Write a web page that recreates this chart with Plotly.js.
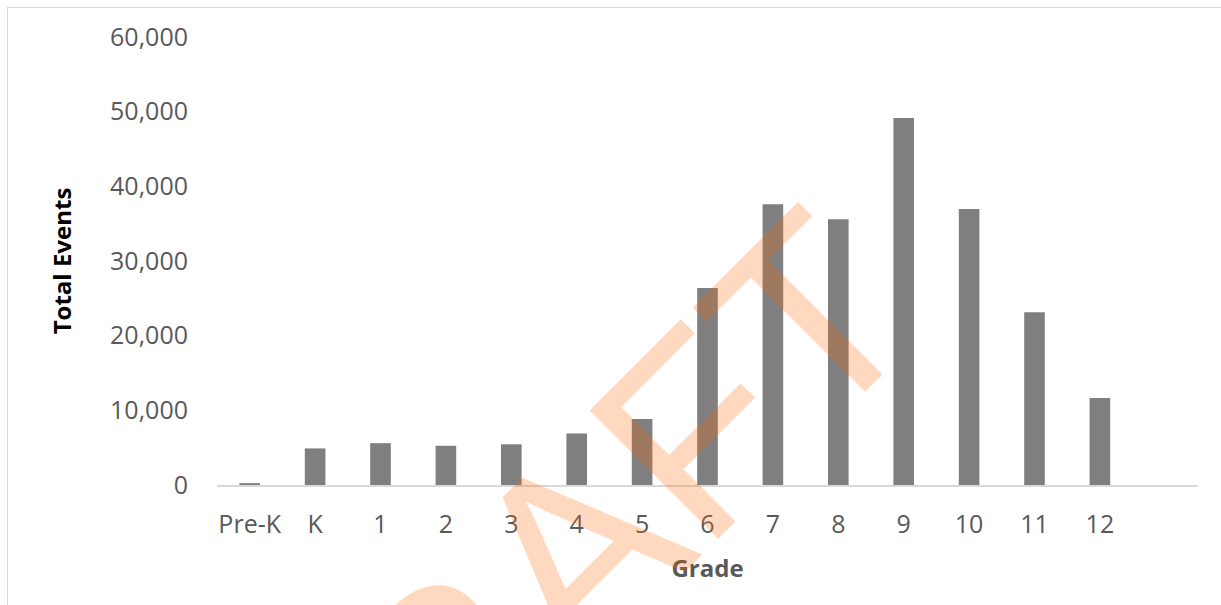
<!DOCTYPE html>
<html>
<head>
<meta charset="utf-8">
<script src="https://cdn.plot.ly/plotly-3.0.1.min.js"></script>
<style>
  html, body { margin: 0; padding: 0; background: #ffffff; overflow: hidden; }
  #frame { position: absolute; left: 7px; top: 7px; width: 1250px; height: 640px; border: 1px solid #d9d9d9; }
  #chart { position: absolute; left: 0; top: 0; width: 1221px; height: 605px; }
</style>
</head>
<body>
<div id="frame"></div>
<div id="chart"></div>
<script>
// Total events recorded per grade level
const grades = ['Pre-K', 'K', '1', '2', '3', '4', '5', '6', '7', '8', '9', '10', '11', '12'];
const totalEvents = [250, 4900, 5600, 5250, 5450, 6900, 8850, 26400, 37600, 35600, 49150, 36950, 23150, 11650];

const yTickValues = [0, 10000, 20000, 30000, 40000, 50000, 60000];

const watermarkText = 'DRAFT';

const trace = {
  type: 'bar',
  x: grades,
  y: totalEvents,
  marker: { color: '#7f7f7f' },
  hoverinfo: 'x+y'
};

const tickFont = { family: '"Open Sans", "Noto Sans", sans-serif', size: 25, color: '#595959' };

const layout = {
  width: 1221,
  height: 605,
  margin: { l: 217, r: 23, t: 37, b: 120, pad: 0 },
  paper_bgcolor: 'rgba(0,0,0,0)',
  plot_bgcolor: 'rgba(0,0,0,0)',
  showlegend: false,
  bargap: 0.685,
  xaxis: {
    type: 'category',
    range: [-0.5, 14.5],
    showgrid: false,
    zeroline: false,
    showline: true,
    linecolor: '#d9d9d9',
    linewidth: 2,
    ticks: '',
    ticklabelstandoff: 16,
    tickfont: tickFont,
    title: {
      text: 'Grade',
      standoff: 21,
      font: { family: '"Open Sans", "Noto Sans", sans-serif', size: 24, color: '#595959', weight: 'bold' }
    }
  },
  yaxis: {
    range: [0, 60000],
    tickvals: yTickValues,
    tickformat: ',d',
    showgrid: false,
    zeroline: false,
    showline: false,
    ticks: '',
    ticklabelstandoff: 28,
    tickfont: tickFont,
    title: {
      text: 'Total Events',
      standoff: 31,
      font: { family: '"Open Sans", "Noto Sans", sans-serif', size: 24, color: '#000000', weight: 'bold' }
    }
  },
  annotations: [{
    text: watermarkText,
    xref: 'paper',
    yref: 'paper',
    x: 0.3445,
    y: -0.195,
    xanchor: 'center',
    yanchor: 'middle',
    showarrow: false,
    textangle: -45,
    font: { family: '"Liberation Sans", Arial, sans-serif', size: 264, color: 'rgba(255,102,0,0.25)' }
  }]
};

Plotly.newPlot('chart', [trace], layout, { displayModeBar: false, staticPlot: true });
</script>
</body>
</html>
